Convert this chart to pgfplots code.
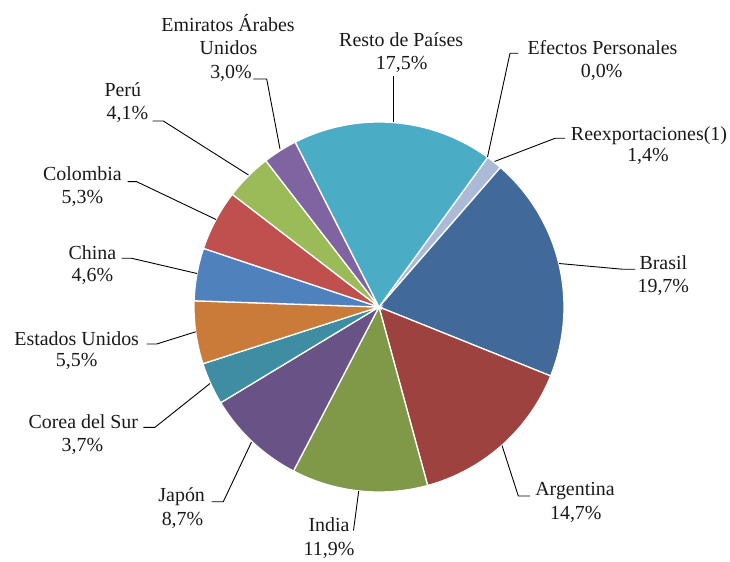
\documentclass[border=0pt]{standalone}
\usepackage{pgfplots}
\usepackage{pgfplotstable}
\pgfplotsset{compat=1.18}
\usepackage{fontspec}
\setmainfont{Liberation Serif}

% slice colours
\definecolor{cefe}{HTML}{D9A3A2}
\definecolor{creex}{HTML}{AABAD7}
\definecolor{cbra}{HTML}{416A9B}
\definecolor{carg}{HTML}{9D423F}
\definecolor{cind}{HTML}{7F9949}
\definecolor{cjap}{HTML}{695285}
\definecolor{ccor}{HTML}{3E8DA2}
\definecolor{ceeu}{HTML}{CB7B39}
\definecolor{cchi}{HTML}{4F81BD}
\definecolor{ccol}{HTML}{C0504D}
\definecolor{cper}{HTML}{9BBB59}
\definecolor{cemi}{HTML}{8064A2}
\definecolor{cres}{HTML}{4BACC6}

% share in %, clockwise from Efectos Personales
\pgfplotstableread{
pct  col
0.0  cefe
1.4  creex
19.7 cbra
14.7 carg
11.9 cind
8.7  cjap
3.7  ccor
5.5  ceeu
4.6  cchi
5.3  ccol
4.1  cper
3.0  cemi
17.5 cres
}\slices

\newcommand\lblfont{\fontsize{20}{24}\selectfont}
\tikzset{lbl/.style={anchor=base, inner sep=0pt, font=\lblfont, text=black!90}}

\begin{document}
\begin{tikzpicture}
\pgfplotstablegetrowsof{\slices}
\pgfmathtruncatemacro\nlast{\pgfplotsretval-1}
\def\total{0}
\pgfplotsforeachungrouped \i in {0,...,\nlast}{%
  \pgfplotstablegetelem{\i}{pct}\of\slices
  \pgfmathsetmacro\total{\total+\pgfplotsretval}}
\begin{axis}[
    width=730bp, height=561bp, scale only axis,
    xmin=0, xmax=730, ymin=0, ymax=561,
    hide axis, clip=false,
]
\coordinate (ll) at (axis cs:0,0);
\coordinate (ur) at (axis cs:730,561);
% slices, centre (379,254), radius 185
\def\angA{54}
\pgfplotsforeachungrouped \i in {0,...,\nlast}{%
  \pgfplotstablegetelem{\i}{pct}\of\slices \let\slval\pgfplotsretval
  \pgfplotstablegetelem{\i}{col}\of\slices \let\slcol\pgfplotsretval
  \pgfmathsetmacro\angB{\angA-\slval*360/\total}
  \ifdim\slval pt>0pt
    \edef\doslice{\noexpand\addplot[fill=\slcol, draw=white, line width=1.3pt,
      domain=\angB:\angA, samples=80]
      ({379+185*cos(x)},{254+185*sin(x)}) -- (axis cs:379,254) -- cycle;}%
    \doslice
  \fi
  \let\angA\angB
}

% leader lines
\begin{scope}[black, line width=0.9pt]
\draw (axis cs:253.3,482) -- (axis cs:266.7,482) -- (axis cs:280,412);
\draw (axis cs:393,485) -- (axis cs:393,439);
\draw (axis cs:518.3,507.7) -- (axis cs:510,507.7) -- (axis cs:487.5,404);
\draw (axis cs:565,422.7) -- (axis cs:555,422.7) -- (axis cs:494.5,399.5);
\draw (axis cs:635,291.7) -- (axis cs:623.3,291.7) -- (axis cs:559,297.5);
\draw (axis cs:530,65) -- (axis cs:518.3,65) -- (axis cs:502,115.5);
\draw (axis cs:353.5,30.5) -- (axis cs:358.7,70);
\draw (axis cs:211.7,59.3) -- (axis cs:223.3,59.3) -- (axis cs:251.5,119);
\draw (axis cs:143.3,133.7) -- (axis cs:155,133.7) -- (axis cs:210,177.5);
\draw (axis cs:146.7,217) -- (axis cs:156.7,217) -- (axis cs:195.7,229.2);
\draw (axis cs:121.7,302.7) -- (axis cs:131.7,302.7) -- (axis cs:197,287.5);
\draw (axis cs:127.7,379.3) -- (axis cs:136.7,379.3) -- (axis cs:216,341.5);
\draw (axis cs:152.7,440) -- (axis cs:163.3,440) -- (axis cs:248.5,386);
\end{scope}

% labels
\node[lbl] at (axis cs:228,529.3) {Emiratos Árabes};
\node[lbl] at (axis cs:228.5,506) {Unidos};
\node[lbl] at (axis cs:231,482.7) {3,0\%};
\node[lbl] at (axis cs:401.2,514.3) {Resto de Países};
\node[lbl] at (axis cs:401.7,491.7) {17,5\%};
\node[lbl] at (axis cs:602.5,506) {Efectos Personales};
\node[lbl] at (axis cs:601.7,483.7) {0,0\%};
\node[lbl] at (axis cs:649,420.3) {Reexportaciones(1)};
\node[lbl] at (axis cs:648,399.3) {1,4\%};
\node[lbl] at (axis cs:663.3,291.7) {Brasil};
\node[lbl] at (axis cs:663.3,268.3) {19,7\%};
\node[lbl] at (axis cs:575,65.3) {Argentina};
\node[lbl] at (axis cs:575.8,41.7) {14,7\%};
\node[lbl] at (axis cs:329,29.5) {India};
\node[lbl] at (axis cs:329,5.5) {11,9\%};
\node[lbl] at (axis cs:181.7,59.3) {Japón};
\node[lbl] at (axis cs:182.5,35.3) {8,7\%};
\node[lbl] at (axis cs:83.3,132.7) {Corea del Sur};
\node[lbl] at (axis cs:82.5,110) {3,7\%};
\node[lbl] at (axis cs:76.7,216) {Estados Unidos};
\node[lbl] at (axis cs:76.7,194.3) {5,5\%};
\node[lbl] at (axis cs:92.5,301) {China};
\node[lbl] at (axis cs:92.5,279.3) {4,6\%};
\node[lbl] at (axis cs:82.5,380.3) {Colombia};
\node[lbl] at (axis cs:82.5,357.7) {5,3\%};
\node[lbl] at (axis cs:122.8,464.3) {Perú};
\node[lbl] at (axis cs:127.5,441) {4,1\%};
\end{axis}
\pgfresetboundingbox
\path (ll) rectangle (ur);
\end{tikzpicture}
\end{document}
